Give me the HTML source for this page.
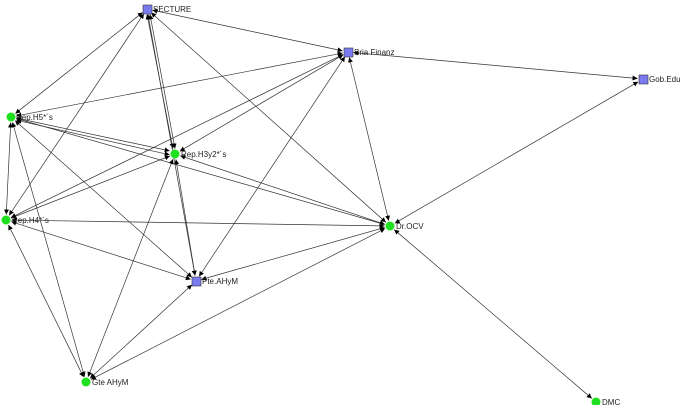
<!DOCTYPE html>
<html><head><meta charset="utf-8"><style>
html,body{margin:0;padding:0;background:#fff;width:681px;height:405px;overflow:hidden}
text{font-family:"Liberation Sans",sans-serif;font-size:8px;fill:#222}
</style></head><body>
<svg id="s" width="681" height="405" viewBox="0 0 681 405" xmlns="http://www.w3.org/2000/svg">
<defs><marker id="a" markerWidth="5" markerHeight="5" refX="5" refY="2.5" orient="auto-start-reverse" markerUnits="userSpaceOnUse"><path d="M0,0L5,2.5L0,5z" fill="#000"/></marker></defs>
<g id="e" stroke="#333" stroke-width="0.7" fill="none"></g>
<g stroke="#333" stroke-width="0.6">
<rect x="143" y="5" width="9" height="9" fill="#7b7bf0"/>
<rect x="344" y="48" width="9" height="9" fill="#7b7bf0"/>
<rect x="639" y="75" width="9" height="9" fill="#7b7bf0"/>
<rect x="192" y="277" width="9" height="9" fill="#7b7bf0"/>
</g>
<g fill="#1ee01e">
<circle cx="11" cy="117" r="4.5"/>
<circle cx="175" cy="154" r="4.5"/>
<circle cx="6" cy="220" r="4.5"/>
<circle cx="390" cy="226" r="4.5"/>
<circle cx="86" cy="382" r="4.5"/>
<circle cx="596" cy="402" r="4.5"/>
</g>
<text x="153" y="12">SECTURE</text>
<text x="354" y="55">Sria Finanz</text>
<text x="649" y="82">Gob.Edu.</text>
<text x="16" y="120">Rep.H5*´s</text>
<text x="181" y="157">Rep.H3y2*´s</text>
<text x="12" y="223">Rep.H4*´s</text>
<text x="396" y="229">Dr.OCV</text>
<text x="202" y="284">Pte.AHyM</text>
<text x="92" y="385">Gte AHyM</text>
<text x="602" y="405">DMC</text>
</svg>
<script>
var E=[[147,9,348,52],[147,9,11,117],[147,9,6,220],[149,9,176,154],[146,9,174,154],[147,9,196,281],[147,9,390,226],
[348,52,643,79],[348,52,11,117],[348,52,175,154],[348,52,6,220],[348,52,390,226],[348,52,196,281],
[11,117,175,152],[11,119,175,156],[11,117,6,220],[11,117,86,382],[11,117,390,226],[11,117,196,281],
[175,154,6,220],[175,154,86,382],[175,154,390,226],[175,154,196,281],[6,220,390,226],[6,220,196,281],[6,220,86,382],
[390,226,643,79],[390,226,596,402],[390,226,86,382],[390,226,196,281],[86,382,196,281]];
var g=document.getElementById('e'),ns='http://www.w3.org/2000/svg';
E.forEach(function(l){var dx=l[2]-l[0],dy=l[3]-l[1],d=Math.hypot(dx,dy),ux=dx/d,uy=dy/d,s=5.5;
var p=document.createElementNS(ns,'line');
p.setAttribute('x1',l[0]+ux*s);p.setAttribute('y1',l[1]+uy*s);p.setAttribute('x2',l[2]-ux*s);p.setAttribute('y2',l[3]-uy*s);
p.setAttribute('marker-end','url(#a)');p.setAttribute('marker-start','url(#a)');g.appendChild(p);});
</script>
</body></html>
